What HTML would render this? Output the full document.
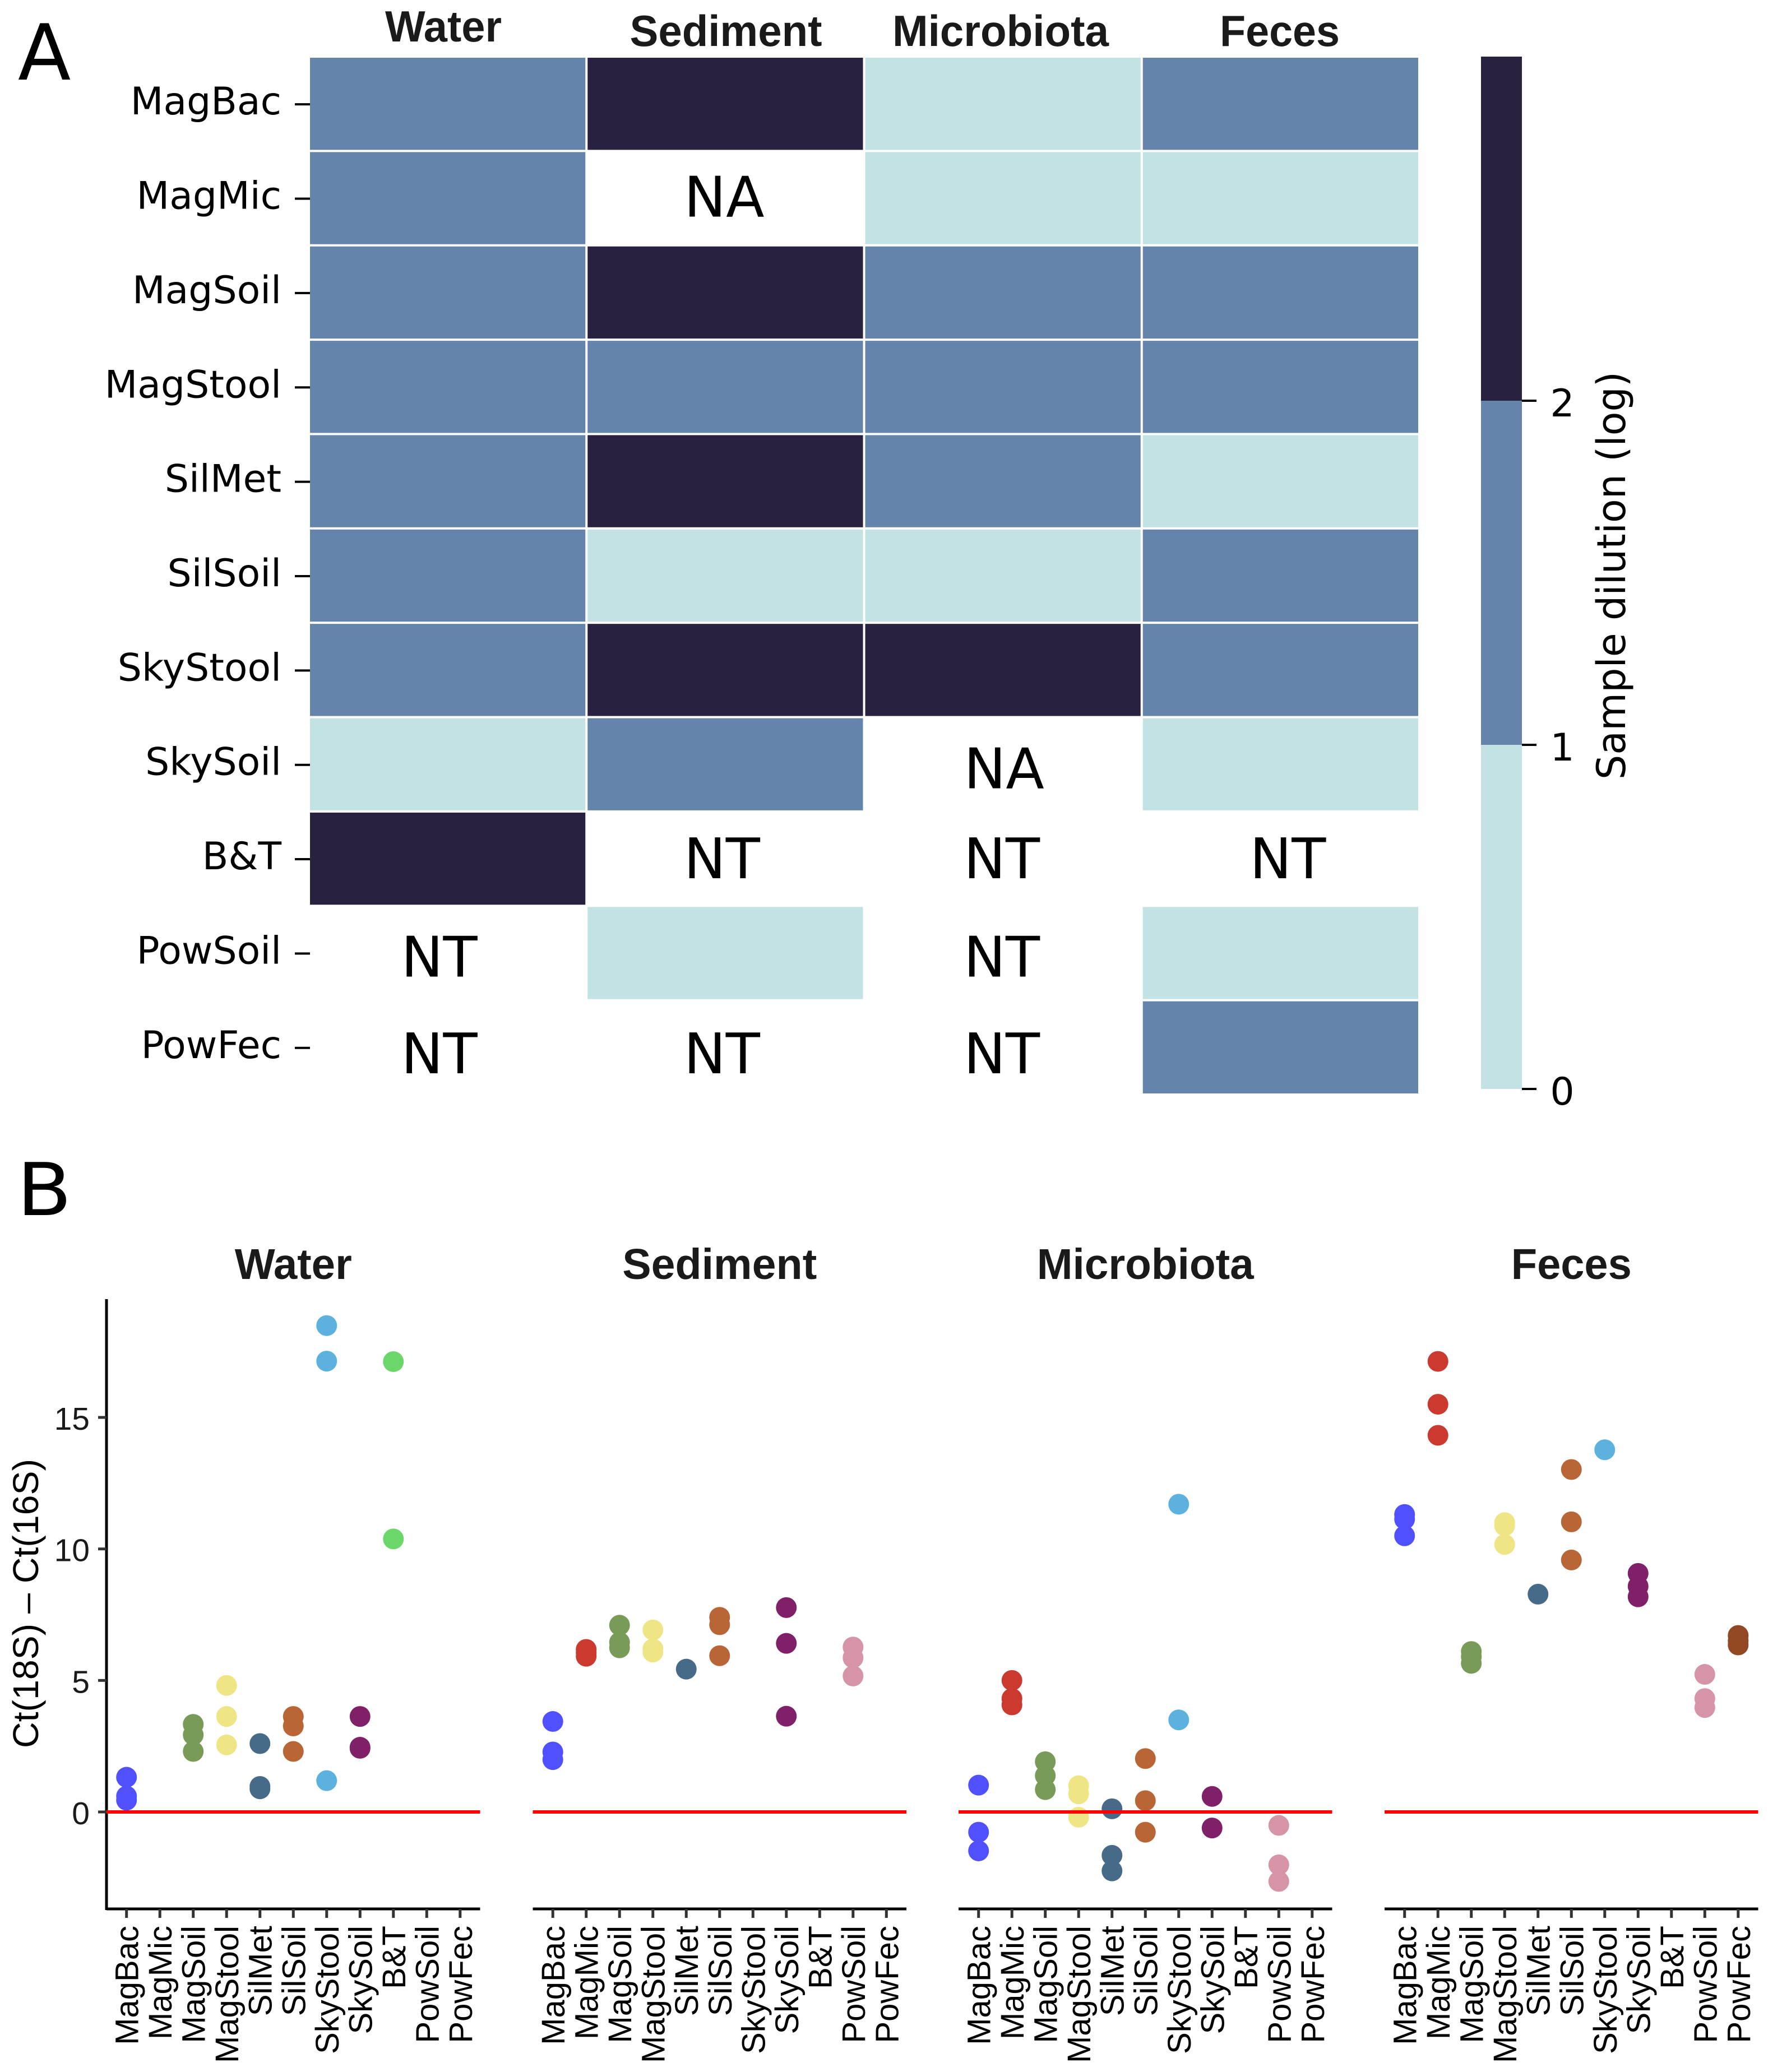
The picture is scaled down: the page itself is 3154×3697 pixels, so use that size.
<!DOCTYPE html>
<html lang="en">
<head>
<meta charset="utf-8">
<title>Sample dilution heatmap and Ct difference dot plots</title>
<style>
html,body{margin:0;padding:0;background:#fff;}
svg{display:block;}
.dj{font-family:"DejaVu Sans",sans-serif;}
.li{font-family:"Liberation Sans",sans-serif;}
</style>
</head>
<body>
<svg id="figure" xmlns="http://www.w3.org/2000/svg" width="3154" height="3697" viewBox="0 0 3154 3697">
  <rect x="0" y="0" width="3154" height="3697" fill="#fff"/>
  <text class="dj" x="32" y="142" font-size="138" fill="#000">A</text>
  <text class="dj" x="30" y="2168" font-size="130" textLength="98" lengthAdjust="spacingAndGlyphs" fill="#000">B</text>
  <g id="heatmap"></g>
  <g id="colorbar"></g>
  <text class="dj" transform="translate(2899,1027) rotate(-90)" text-anchor="middle" font-size="70" textLength="728" lengthAdjust="spacingAndGlyphs" fill="#000">Sample dilution (log)</text>
  <g id="dotplots"></g>
  <text class="li" transform="translate(68,2861) rotate(-90)" text-anchor="middle" font-size="64" textLength="516" lengthAdjust="spacingAndGlyphs" fill="#000">Ct(18S) – Ct(16S)</text>
</svg>
<script>
const samples = ['MagBac','MagMic','MagSoil','MagStool','SilMet','SilSoil','SkyStool','SkySoil','B&T','PowSoil','PowFec'];
const facets = ['Water','Sediment','Microbiota','Feces'];

/* Panel A: log dilution per sample (top to bottom); strings are printed labels */
const heatWater = [1,1,1,1,1,1,1,0,2,'NT','NT'];
const heatSediment = [2,'NA',2,1,2,0,2,1,'NT',0,'NT'];
const heatMicrobiota = [0,0,1,1,1,0,2,'NA','NT','NT','NT'];
const heatFeces = [1,0,1,1,0,1,1,0,'NT',0,1];
const colorbarTicks = [0,1,2];
const colorbarMax = 3;
const heatColors = ['#C3E2E3','#6484AB','#28213F'];

/* Panel B: Ct(18S) - Ct(16S) per sample */
const ctWater = [[1.32,0.60,0.45],[],[3.33,2.93,2.30],[4.81,3.63,2.55],[2.60,0.97,0.88],[3.63,3.27,2.30],[18.49,17.14,1.19],[3.63,2.46,2.42],[17.12,10.38],[],[]];
const ctSediment = [[3.44,2.28,1.99],[6.18,6.05,5.92],[7.10,6.45,6.24],[6.92,6.20,6.08],[5.43],[7.40,7.12,5.94],[],[7.77,6.41,3.64],[],[6.27,5.86,5.17],[]];
const ctMicrobiota = [[1.02,-0.77,-1.48],[5.00,4.31,4.07],[1.91,1.38,0.85],[1.00,0.69,-0.20],[0.12,-1.65,-2.24],[2.03,0.43,-0.77],[11.70,3.50],[0.59,-0.61],[],[-0.51,-2.01,-2.64],[]];
const ctFeces = [[11.31,11.13,10.50],[17.13,15.50,14.32],[6.10,5.90,5.65],[11.00,10.88,10.17],[8.28],[13.02,11.03,9.58],[13.77],[9.07,8.58,8.18],[],[5.23,4.31,3.97],[6.71,6.51,6.35]];
const yTicks = [0,5,10,15];
const sampleColors = ['#5050FF','#CC3A2F','#789B58','#F0E585','#466A88','#B96536','#5CB1DE','#7F2068','#6BD76B','#D595A7','#924822'];

const heatColumns = [heatWater,heatSediment,heatMicrobiota,heatFeces];
const ctFacets = [ctWater,ctSediment,ctMicrobiota,ctFeces];

const NS = 'http://www.w3.org/2000/svg';
function mk(parent, tag, attrs, text) {
  const el = document.createElementNS(NS, tag);
  for (const k in attrs) el.setAttribute(k, attrs[k]);
  if (text !== undefined) el.textContent = text;
  parent.appendChild(el);
  return el;
}
function slug(s) { return s.toLowerCase().replace('&','-and-'); }

/* ---------- Panel A ---------- */
const heatmap = document.getElementById('heatmap');
const HX0 = 553, HY0 = 103, HCOL = 495.25, HROW = 168.36, HGAP = 4;
const heatX = c => HX0 + c * HCOL;
const heatY = r => HY0 + r * HROW;
const headerX = [791,1295,1785,2283];
const headerBase = [74,82,82,82];
const headerLen = [208,343,386,214];
const labelDx = [-15,-2,2,17];
const labelDyByRow = {1:33,7:43,8:35,9:42,10:46};

facets.forEach((f, c) => {
  const h = mk(heatmap, 'text', {class:'li','font-weight':'bold','font-size':78,'text-anchor':'middle',x:headerX[c],y:headerBase[c],fill:'#1a1a1a',textLength:headerLen[c],lengthAdjust:'spacingAndGlyphs'}, f);
  
  
});

samples.forEach((s, r) => {
  const cy = heatY(r) + (HROW - HGAP) / 2;
  const lab = mk(heatmap, 'text', {class:'dj','font-size':68,'text-anchor':'end',x:502,y:cy+19,fill:'#000'}, s);
  
  
  const tick = mk(heatmap, 'line', {x1:526,x2:553,y1:cy+1,y2:cy+1,stroke:'#000','stroke-width':4});
  
  
  heatColumns.forEach((col, c) => {
    const v = col[r];
    if (typeof v === 'number') {
      const cell = mk(heatmap, 'rect', {x:heatX(c),y:heatY(r),width:HCOL-HGAP,height:HROW-HGAP,fill:heatColors[v]});
      
      
    } else {
      const nudge = v === 'NT' && c > 0 ? -4 : 0;
      const t = mk(heatmap, 'text', {class:'dj','font-size':100,'text-anchor':'middle',x:heatX(c)+(HCOL-HGAP)/2+labelDx[c]+nudge,y:cy+labelDyByRow[r],fill:'#000'}, v);
      
      
    }
  });
});

/* ---------- Colorbar ---------- */
const colorbar = document.getElementById('colorbar');
const CBX = 2642, CBW = 73, CBB = 1943, CBT = 101;
const cbY = v => CBB - v * (CBB - CBT) / colorbarMax;
heatColors.forEach((col, i) => {
  const seg = mk(colorbar, 'rect', {x:CBX,width:CBW,y:cbY(i+1),height:cbY(i)-cbY(i+1),fill:col});
  
  
});
colorbarTicks.forEach(v => {
  const t = mk(colorbar, 'line', {x1:CBX+CBW,x2:CBX+CBW+26,y1:cbY(v),y2:cbY(v),stroke:'#000','stroke-width':4});
  
  
  const l = mk(colorbar, 'text', {class:'dj','font-size':68,'text-anchor':'middle',x:2787,y:cbY(v)+28,fill:'#000'}, String(v));
  
  
});

/* ---------- Panel B ---------- */
const dotplots = document.getElementById('dotplots');
const panelLeft = [190,950.5,1710,2470], PW = 666.5;
const Y0 = 3233, YUNIT = 46.93, AXB = 3406, AXT = 2318;
const yScale = v => Y0 - v * YUNIT;
const band = PW / 11.2;
const xScale = (p, i) => panelLeft[p] + (0.6 + i) * band;
const titleLen = [209,347,387,215];

/* y axis */
const yAxis = mk(dotplots, 'line', {x1:190,x2:190,y1:AXT,y2:AXB+2,stroke:'#000','stroke-width':5});


yTicks.forEach(v => {
  const t = mk(dotplots, 'line', {x1:175,x2:190,y1:yScale(v),y2:yScale(v),stroke:'#333','stroke-width':5});
  
  
  const l = mk(dotplots, 'text', {class:'li','font-size':57,'text-anchor':'end',x:160,y:yScale(v)+22,fill:'#1a1a1a'}, String(v));
  
  
});

facets.forEach((f, p) => {
  const g = mk(dotplots, 'g', {});
  
  
  const left = panelLeft[p];

  const title = mk(g, 'text', {class:'li','font-weight':'bold','font-size':77,'text-anchor':'middle',x:left+PW/2,y:2282,fill:'#1a1a1a',textLength:titleLen[p],lengthAdjust:'spacingAndGlyphs'}, f);
  
  

  const xAxis = mk(g, 'line', {x1:left,x2:left+PW,y1:AXB,y2:AXB,stroke:'#000','stroke-width':5});
  
  

  samples.forEach((s, i) => {
    const tx = xScale(p, i);
    const t = mk(g, 'line', {x1:tx,x2:tx,y1:AXB,y2:3422,stroke:'#333','stroke-width':5});
    
    
    const l = mk(g, 'text', {class:'li','font-size':58,'text-anchor':'end',transform:'translate(' + (tx+21) + ',3436) rotate(-90)',fill:'#000'}, s);
    
    
  });

  ctFacets[p].forEach((vals, i) => {
    vals.forEach((v, k) => {
      const dot = mk(g, 'circle', {cx:xScale(p,i),cy:yScale(v),r:18.5,fill:sampleColors[i]});
      
      
    });
  });

  const ref = mk(g, 'line', {x1:left,x2:left+PW,y1:yScale(0),y2:yScale(0),stroke:'#FF0000','stroke-width':6});
  
  
});
</script>
</body>
</html>
